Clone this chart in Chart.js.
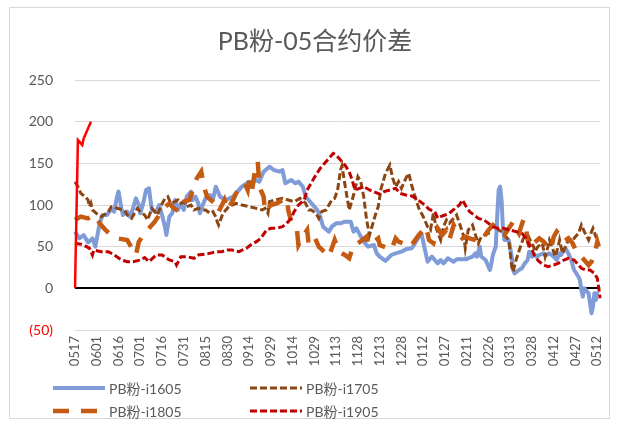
<!DOCTYPE html>
<html>
<head>
<meta charset="utf-8">
<script src="https://cdn.jsdelivr.net/npm/chart.js@4/dist/chart.umd.min.js"></script>
<style>
  html, body { margin: 0; padding: 0; background: #ffffff; }
  canvas { display: block; }
</style>
</head>
<body>
<canvas id="spread" width="619" height="421"></canvas>
<script>
// ---- chart text ----
const chartTitle = 'PB粉-05合约价差';

// ---- x axis: one category per calendar day, 05-17 through 05-14 of the next year ----
const firstDay = [2017, 5, 17];
const dayCount = 363;
const tickLabels = ['0517','0601','0616','0701','0716','0731','0815','0830','0914','0929','1014','1029',
  '1113','1128','1213','1228','0112','0127','0211','0226','0313','0328','0412','0427','0512'];

// ---- spreads, [MMDD, value] ----
const i1605 = [['0517',68],['0520',60],['0523',64],['0526',55],['0529',60],['0531',50],['0603',78],['0605',88],['0608',88],['0611',95],['0613',92],['0615',110],['0616',116],['0618',96],['0619',88],['0622',92],['0624',86],['0626',96],['0628',108],['0630',100],['0701',90],['0703',102],['0705',118],['0707',120],['0708',106],['0709',94],['0712',92],['0714',100],['0716',88],['0718',74],['0719',64],['0721',86],['0723',90],['0725',106],['0727',94],['0729',102],['0731',94],['0802',110],['0805',116],['0806',106],['0808',110],['0810',102],['0811',90],['0813',100],['0815',108],['0818',112],['0820',106],['0822',122],['0825',110],['0829',106],['0903',110],['0905',114],['0909',122],['0914',128],['0916',126],['0919',130],['0921',128],['0924',140],['0928',146],['1001',142],['1005',140],['1007',142],['1009',126],['1013',130],['1016',126],['1018',128],['1021',122],['1023',110],['1025',106],['1029',98],['1031',94],['1102',86],['1104',74],['1108',68],['1110',74],['1113',78],['1116',78],['1119',80],['1123',80],['1125',68],['1127',72],['1130',62],['1203',54],['1205',50],['1209',52],['1211',42],['1213',38],['1217',33],['1221',40],['1224',42],['1228',44],['1231',47],['0104',48],['0106',53],['0109',62],['0111',64],['0113',48],['0115',32],['0118',38],['0120',34],['0122',30],['0124',34],['0126',30],['0129',36],['0202',32],['0204',35],['0211',35],['0212',36],['0215',38],['0217',42],['0218',38],['0220',50],['0221',38],['0224',34],['0226',26],['0227',22],['0228',30],['0301',40],['0303',50],['0304',86],['0305',118],['0306',122],['0307',106],['0308',70],['0309',58],['0312',58],['0314',38],['0315',22],['0316',18],['0319',22],['0321',24],['0323',30],['0325',34],['0326',44],['0328',38],['0329',42],['0331',38],['0402',40],['0405',42],['0407',40],['0409',42],['0412',38],['0414',34],['0416',42],['0417',40],['0420',48],['0422',42],['0424',34],['0426',22],['0429',14],['0430',10],['0501',-2],['0502',-10],['0503',0],['0506',-6],['0508',-30],['0509',-22],['0510',-6],['0511',-14],['0512',-4]];

const i1705 = [['0517',128],['0519',122],['0521',114],['0524',110],['0526',106],['0527',98],['0528',102],['0529',94],['0602',88],['0604',86],['0606',88],['0609',92],['0611',98],['0613',98],['0615',96],['0620',94],['0622',88],['0625',84],['0627',90],['0629',96],['0701',92],['0704',88],['0706',82],['0709',96],['0711',92],['0713',88],['0715',98],['0718',108],['0720',110],['0722',102],['0725',104],['0727',106],['0729',102],['0731',104],['0802',98],['0805',100],['0807',94],['0810',96],['0813',94],['0815',94],['0818',90],['0820',92],['0822',86],['0823',80],['0824',76],['0827',90],['0829',94],['0831',98],['0905',102],['0909',100],['0914',98],['0919',96],['0923',94],['0925',96],['0927',90],['0928',104],['1002',106],['1007',108],['1011',106],['1015',104],['1019',108],['1023',102],['1025',94],['1027',94],['1030',90],['1101',84],['1103',92],['1106',94],['1108',100],['1110',106],['1112',108],['1114',118],['1115',130],['1116',142],['1117',147],['1119',125],['1122',94],['1125',112],['1128',134],['1130',128],['1202',110],['1204',82],['1206',64],['1208',76],['1210',88],['1212',98],['1214',120],['1217',138],['1220',148],['1222',132],['1224',122],['1226',128],['1228',120],['1231',132],['0102',138],['0104',124],['0106',112],['0109',96],['0112',86],['0115',74],['0117',70],['0119',90],['0121',72],['0124',58],['0126',74],['0128',82],['0130',78],['0202',84],['0204',88],['0206',78],['0209',62],['0210',48],['0212',70],['0215',76],['0217',64],['0219',54],['0221',62],['0226',66],['0228',74],['0303',76],['0305',70],['0307',68],['0312',58],['0313',42],['0314',26],['0315',20],['0317',34],['0320',50],['0322',60],['0325',64],['0329',50],['0330',44],['0401',50],['0404',54],['0406',38],['0408',50],['0409',58],['0410',54],['0413',38],['0415',50],['0416',58],['0418',42],['0422',58],['0424',62],['0426',60],['0429',66],['0501',76],['0503',68],['0506',58],['0508',68],['0509',72],['0511',62],['0513',58]];

const i1805 = [['0517',82],['0521',86],['0526',84],['0530',88],['0604',76],['0607',70],['0611',64],['0615',60],['0622',58],['0626',46],['0628',40],['0630',56],['0704',66],['0707',72],['0711',80],['0714',88],['0717',96],['0721',102],['0724',96],['0728',92],['0731',104],['0804',106],['0806',118],['0809',132],['0812',140],['0814',122],['0816',110],['0820',104],['0823',100],['0824',92],['0828',106],['0830',94],['0903',106],['0905',114],['0908',122],['0911',126],['0913',118],['0914',130],['0916',118],['0918',140],['0920',152],['0921',124],['0922',118],['0924',110],['0925',92],['0929',100],['1003',102],['1007',106],['1010',108],['1011',94],['1013',80],['1017',70],['1018',52],['1021',62],['1024',70],['1025',54],['1029',62],['1101',50],['1106',42],['1108',38],['1112',58],['1115',44],['1119',40],['1122',36],['1125',52],['1128',54],['1204',62],['1205',52],['1209',56],['1212',60],['1213',52],['1219',48],['1221',46],['1224',60],['1226',56],['1229',54],['0102',56],['0104',52],['0109',64],['0111',68],['0114',74],['0116',58],['0119',54],['0122',72],['0125',64],['0128',70],['0130',58],['0202',76],['0205',66],['0208',60],['0210',62],['0213',60],['0217',58],['0220',56],['0223',62],['0226',70],['0301',76],['0304',72],['0307',66],['0309',64],['0312',72],['0315',80],['0317',72],['0319',66],['0322',82],['0324',70],['0325',58],['0327',46],['0329',54],['0402',60],['0405',56],['0408',50],['0410',46],['0412',62],['0414',68],['0417',62],['0419',56],['0422',60],['0425',54],['0427',46],['0430',40],['0503',34],['0506',28],['0508',32],['0510',40],['0512',56],['0513',50]];

const i1905 = [['0517',54],['0521',53],['0525',50],['0527',48],['0529',40],['0530',46],['0604',44],['0609',44],['0613',40],['0618',34],['0622',32],['0626',32],['0701',34],['0704',37],['0707',32],['0712',40],['0716',40],['0721',34],['0725',32],['0726',28],['0729',38],['0802',38],['0807',36],['0810',40],['0814',41],['0818',42],['0822',44],['0826',44],['0830',46],['0902',46],['0907',44],['0912',48],['0915',52],['0919',56],['0922',60],['0926',70],['0929',72],['1003',72],['1007',74],['1010',78],['1013',84],['1015',92],['1018',100],['1022',106],['1024',118],['1028',130],['1030',136],['1102',144],['1104',148],['1108',156],['1111',162],['1113',160],['1116',154],['1119',148],['1122',140],['1124',130],['1126',118],['1129',120],['1202',122],['1206',118],['1209',116],['1213',113],['1216',116],['1220',118],['1224',120],['1227',114],['1231',112],['0104',111],['0107',108],['0110',104],['0113',100],['0116',95],['0120',92],['0122',84],['0124',86],['0127',88],['0130',90],['0203',96],['0206',100],['0208',106],['0210',100],['0213',92],['0216',88],['0219',84],['0223',82],['0226',78],['0301',74],['0304',72],['0308',72],['0313',70],['0317',68],['0321',66],['0324',60],['0326',52],['0328',46],['0330',38],['0402',32],['0405',28],['0408',26],['0412',28],['0415',30],['0419',34],['0422',36],['0426',34],['0428',30],['0501',24],['0504',22],['0507',22],['0510',18],['0512',12],['0513',0],['0514',-12]];

// newest contract, first days only
const i2005 = [['0517',0],['0519',178],['0520',176],['0522',172],['0523',180],['0525',188],['0527',196],['0528',200]];

// ---- build the daily category list ----
const categories = [];
for (let i = 0; i < dayCount; i++) {
  const d = new Date(Date.UTC(firstDay[0], firstDay[1] - 1, firstDay[2] + i));
  categories.push(String(d.getUTCMonth() + 1).padStart(2, '0') + String(d.getUTCDate()).padStart(2, '0'));
}

const toPoints = rows => rows.map(([x, y]) => ({ x, y }));
const FONT = "Lato, 'Noto Sans CJK SC', 'Noto Sans', sans-serif";
const GREY_TEXT = '#595959';

// page frame and white background
const framePlugin = {
  id: 'frame',
  beforeDraw(chart) {
    const ctx = chart.ctx;
    ctx.save();
    ctx.fillStyle = '#ffffff';
    ctx.fillRect(0, 0, chart.width, chart.height);
    ctx.strokeStyle = '#d9d9d9';
    ctx.lineWidth = 1;
    ctx.strokeRect(9.5, 7.5, 600, 411);
    ctx.restore();
  }
};

// two-column legend under the axis labels
const gridLegendPlugin = {
  id: 'gridLegend',
  afterDraw(chart) {
    const ctx = chart.ctx;
    const slots = [[53, 388], [250, 388], [53, 411], [250, 411]];
    chart.data.datasets.forEach(ds => {
      if (!ds.inLegend) return;
      const [x, y] = slots[ds.legendSlot];
      ctx.save();
      ctx.strokeStyle = ds.borderColor;
      ctx.lineWidth = ds.borderWidth;
      ctx.setLineDash(ds.borderDash || []);
      ctx.beginPath();
      ctx.moveTo(x, y);
      ctx.lineTo(x + 52, y);
      ctx.stroke();
      ctx.setLineDash([]);
      ctx.fillStyle = GREY_TEXT;
      ctx.font = '14px ' + FONT;
      ctx.textBaseline = 'middle';
      ctx.textAlign = 'left';
      ctx.fillText(ds.label, x + 56, y + 1);
      ctx.restore();
    });
  }
};

new Chart(document.getElementById('spread'), {
  type: 'line',
  data: {
    labels: categories,
    datasets: [
      { label: 'PB粉-i1605', data: toPoints(i1605), borderColor: '#7f9bd8', borderWidth: 4,
        order: 5, inLegend: true, legendSlot: 0, borderJoinStyle: 'round' },
      { label: 'PB粉-i1705', data: toPoints(i1705), borderColor: '#8c4614', borderWidth: 3,
        borderDash: [7, 3], order: 4, inLegend: true, legendSlot: 1 },
      { label: 'PB粉-i1805', data: toPoints(i1805), borderColor: '#c55a11', borderWidth: 4.5,
        borderDash: [16, 12], order: 3, inLegend: true, legendSlot: 2 },
      { label: 'PB粉-i1905', data: toPoints(i1905), borderColor: '#c00000', borderWidth: 3,
        borderDash: [7, 3], order: 2, inLegend: true, legendSlot: 3 },
      { label: 'PB粉-i2005', data: toPoints(i2005), borderColor: '#ff0000', borderWidth: 2.5,
        order: 1, inLegend: false }
    ]
  },
  options: {
    responsive: false,
    animation: false,
    devicePixelRatio: 1,
    layout: { padding: { left: 27, right: 16, top: 0, bottom: 0 } },
    elements: { point: { radius: 0 }, line: { tension: 0, fill: false } },
    plugins: {
      legend: { display: false },
      tooltip: { enabled: false },
      title: {
        display: true,
        text: chartTitle,
        color: GREY_TEXT,
        font: { family: FONT, size: 25, weight: 'normal' },
        padding: { top: 27, bottom: 23 }
      }
    },
    scales: {
      x: {
        type: 'category',
        grid: { display: false, drawTicks: false },
        border: { display: false },
        ticks: {
          autoSkip: false, minRotation: 90, maxRotation: 90, padding: 6,
          color: GREY_TEXT, font: { family: FONT, size: 13 }
        },
        afterBuildTicks: scale => {
          scale.ticks = scale.ticks.filter(t => tickLabels.includes(categories[t.value]));
        },
        afterFit: scale => { scale.height = 91; }
      },
      y: {
        min: -50, max: 250,
        border: { display: false },
        grid: {
          drawTicks: false,
          color: c => (c.tick && c.tick.value === 0) ? '#000000' : '#d9d9d9',
          lineWidth: c => (c.tick && c.tick.value === 0) ? 2 : 1
        },
        ticks: {
          stepSize: 50, padding: 22,
          color: c => (c.tick && c.tick.value < 0) ? '#ff0000' : GREY_TEXT,
          font: { family: FONT, size: 14 },
          callback: v => v < 0 ? '(' + (-v) + ')' : String(v)
        },
        afterFit: scale => { scale.width = 48; }
      }
    }
  },
  plugins: [framePlugin, gridLegendPlugin]
});
</script>
</body>
</html>
